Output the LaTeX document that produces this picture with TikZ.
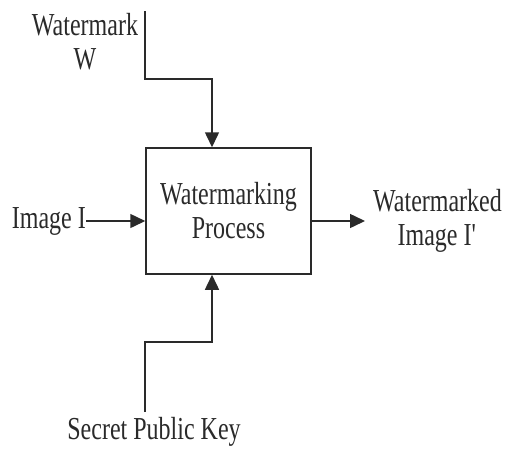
\documentclass[tikz,border=0pt]{standalone}
\usepackage{fontspec}
\setmainfont[FakeStretch=0.75]{Liberation Serif}
\usetikzlibrary{arrows.meta}
\definecolor{ink}{HTML}{2A2A2A}
\begin{document}
\begin{tikzpicture}[x=1pt,y=-1pt,
  lbl/.style={inner sep=0pt,align=center,text=ink,font=\fontsize{32}{34}\selectfont},
  procbox/.style={draw=ink,line width=1.5pt,minimum width=165pt,minimum height=126pt,inner sep=0pt},
  arr/.style={draw=ink,line width=1.5pt,-{Triangle[length=15pt,width=14pt]}},
  wire/.style={draw=ink,line width=1.5pt}]
\useasboundingbox (0,0) rectangle (508,448);
\node[procbox,lbl,draw=ink] (proc) at (228.5,211) {Watermarking\\Process};
\node[lbl] (wm) at (85,42) {Watermark\\W};
\node[lbl,anchor=east] (img) at (86,221) {Image I};
\node[lbl,anchor=west] (out) at (373,221) {Watermarked\\Image I\textquotesingle};
\node[lbl,anchor=base] (key) at (154,439) {Secret Public Key};
\coordinate (wk) at (145,11);
\coordinate (wbend) at (212,79);
\coordinate (kb) at (145,412);
\coordinate (kbend) at (212,342);
\draw[arr] (wk) |- (wbend) -- (wbend |- proc.north);
\draw[arr] (kb) |- (kbend) -- (kbend |- proc.south);
\draw[arr] (img.east) -- (img.east -| proc.west);
\draw[arr,shorten >=8pt] (out.west -| proc.east) -- (out.west);
\end{tikzpicture}
\end{document}
